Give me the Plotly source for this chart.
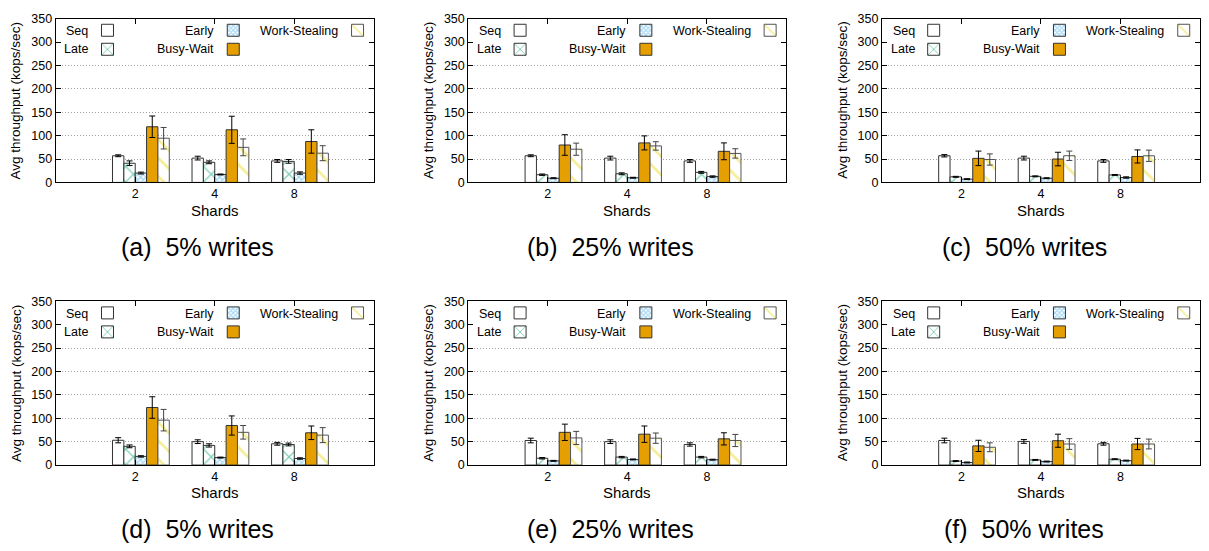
import plotly.graph_objects as go

# ---------------- data ----------------
shards = ["2", "4", "8"]
series = ["Seq", "Late", "Early", "Busy-Wait", "Work-Stealing"]
panels = ["(a)", "(b)", "(c)", "(d)", "(e)", "(f)"]
captions = ["5% writes", "25% writes", "50% writes", "5% writes", "25% writes", "50% writes"]

# each list holds one [2, 4, 8] triple per panel (a..f)
seq_vals = [[57, 52, 46], [57, 52, 46], [57, 52, 46], [53, 50, 45.5], [52.5, 50, 44], [52.5, 50.5, 45.5]]
seq_errs = [[2, 4, 3], [2, 4, 3], [2.5, 4, 3], [5.5, 4, 3], [5, 4, 3.5], [5, 4, 3]]
late_vals = [[41, 43, 45], [16.5, 18.5, 21.5], [12, 13, 16], [40, 42, 44], [14.5, 17, 17], [8.5, 11, 12.5]]
late_errs = [[5, 3, 4], [1.5, 2, 2], [1, 1, 1], [3, 3.5, 3], [1.5, 1.5, 1.5], [1, 1, 1]]
early_vals = [[20, 17, 20], [9, 10, 12.5], [7, 9, 10.5], [18.5, 16, 14], [9, 12, 11.5], [5.5, 7.5, 9.5]]
early_errs = [[2, 1, 2.5], [1, 1, 1.5], [1, 1, 1.5], [1.5, 1, 1.5], [1, 1, 1], [1, 1, 1]]
busy_vals = [[119, 112.5, 87.5], [80, 84.5, 66.5], [51.5, 50, 55.5], [123, 84.5, 69], [70, 66, 56], [41, 52, 45]]
busy_errs = [[23, 29, 25], [22, 15, 18], [15.5, 14.5, 14], [23, 20.5, 14.5], [17.5, 17.5, 13], [12, 14, 12]]
ws_vals = [[94.5, 75, 62.5], [71, 78, 62], [49, 57, 57], [96, 70, 64], [58, 57.5, 52.5], [38, 45, 45]]
ws_errs = [[23, 18, 16], [13, 9, 10], [12, 10, 12], [23, 14.5, 16], [14, 11, 13], [9.5, 11.5, 10.5]]

y_ticks = [0, 50, 100, 150, 200, 250, 300, 350]
grid_vals = [50, 100, 150, 200, 250]

# ---------------- layout geometry (pixels) ----------------
W, H = 1209, 551
PW, PH = 320, 168
lefts = [56, 471, 887, 56, 471, 887]
tops = [12, 12, 12, 302, 302, 302]
FONT = "Liberation Sans, Arial, Helvetica, sans-serif"

vals = [seq_vals, late_vals, early_vals, busy_vals, ws_vals]
errs = [seq_errs, late_errs, early_errs, busy_errs, ws_errs]
outline = "#333333"
markers = [
    dict(color="white", line=dict(color=outline, width=1)),
    dict(color="white", line=dict(color=outline, width=1),
         pattern=dict(shape="x", fgcolor="#009E73", bgcolor="white", size=11, solidity=0.22)),
    dict(color="white", line=dict(color=outline, width=1),
         pattern=dict(shape="x", fgcolor="#56B4E9", bgcolor="white", size=4, solidity=0.6)),
    dict(color="#E69F00", line=dict(color=outline, width=1)),
    dict(color="white", line=dict(color="#555555", width=1),
         pattern=dict(shape="\\", fgcolor="#EADB2A", bgcolor="white", size=13, solidity=0.2)),
]
err_colors = ["#000", "#000", "#000", "#000", "#444"]
legend_col = [0, 0, 1, 1, 2]
legend_row = [0, 1, 0, 1, 0]
col_text_right = [35, 161, 286]
col_sym_center = [52, 178.5, 303.5]

fig = go.Figure()
annotations = []
layout = dict(width=W, height=H, margin=dict(l=0, r=0, t=0, b=0),
              paper_bgcolor="white", plot_bgcolor="white", barmode="overlay",
              font=dict(family=FONT, size=12, color="#000"))

nbar = len(series)
bw = 1.0 / (nbar + 2)

for p in range(6):
    k = p + 1
    xa = "x" if k == 1 else f"x{k}"
    ya = "y" if k == 1 else f"y{k}"
    L, T = lefts[p], tops[p]
    for j, s in enumerate(series):
        lg_idx = p * 3 + legend_col[j] + 1
        lg = "legend" if lg_idx == 1 else f"legend{lg_idx}"
        fig.add_trace(go.Bar(
            x=list(range(len(shards))), y=vals[j][p], name="",
            offset=-2 * bw + j * bw, width=bw,
            marker=markers[j],
            error_y=dict(type="data", array=errs[j][p], color=err_colors[j], thickness=1, width=3),
            xaxis=xa, yaxis=ya, legend=lg, showlegend=True,
            hovertemplate=s + ": %{y}<extra></extra>",
        ))
        # legend label text
        annotations.append(dict(
            text=s, xref="paper", yref="paper", showarrow=False,
            x=(L + col_text_right[legend_col[j]]) / W, xanchor="right",
            y=1 - (T + 13 + 18 * legend_row[j]) / H, yanchor="middle",
            font=dict(family=FONT, size=12.5, color="#000"),
        ))
    for c in range(3):
        lg_idx = p * 3 + c + 1
        lg = "legend" if lg_idx == 1 else f"legend{lg_idx}"
        layout[lg] = dict(
            x=(L + col_sym_center[c] - 20) / W, xanchor="left",
            y=1 - (T - 3) / H, yanchor="top",
            bgcolor="rgba(0,0,0,0)", borderwidth=0, tracegroupgap=0,
            font=dict(family=FONT, size=11),
        )
    xdom = [L / W, (L + PW) / W]
    ydom = [1 - (T + PH) / H, 1 - T / H]
    axname = "xaxis" if k == 1 else f"xaxis{k}"
    ayname = "yaxis" if k == 1 else f"yaxis{k}"
    layout[axname] = dict(
        domain=xdom, anchor=ya, range=[-1, 3],
        tickmode="array", tickvals=list(range(len(shards))), ticktext=shards,
        ticks="inside", ticklen=5, tickcolor="#000", showline=True, linecolor="#000",
        linewidth=1, mirror="ticks", showgrid=False, zeroline=False,
        tickfont=dict(family=FONT, size=12.5, color="#000"), fixedrange=True,
    )
    layout[ayname] = dict(
        domain=ydom, anchor=xa, range=[0, 350],
        tickmode="array", tickvals=y_ticks,
        ticks="inside", ticklen=5, tickcolor="#000", showline=True, linecolor="#000",
        linewidth=1, mirror="ticks", showgrid=False, zeroline=False,
        tickfont=dict(family=FONT, size=12.5, color="#000"), fixedrange=True,
        minor=dict(tickmode="array", tickvals=grid_vals, showgrid=True,
                   gridcolor="#a0a0a0", griddash="1px,2px", gridwidth=1, ticks=""),
    )
    # y title
    annotations.append(dict(
        text="Avg throughput (kops/sec)", xref="paper", yref="paper", showarrow=False,
        x=(L - 40) / W, y=1 - (T + PH / 2) / H, textangle=-90,
        xanchor="center", yanchor="middle", font=dict(family=FONT, size=13.5, color="#000"),
    ))
    # x title
    annotations.append(dict(
        text="Shards", xref="paper", yref="paper", showarrow=False,
        x=(L + PW / 2) / W, y=1 - (T + 196.5) / H, xanchor="center", yanchor="middle",
        font=dict(family=FONT, size=15, color="#000"),
    ))
    # caption
    annotations.append(dict(
        text=panels[p] + "\u00a0\u00a0" + captions[p], xref="paper", yref="paper", showarrow=False,
        x=(L + PW / 2 - 17) / W, y=1 - (T + 234) / H, xanchor="center", yanchor="middle",
        font=dict(family=FONT, size=25, color="#000"),
    ))

layout["annotations"] = annotations
fig.update_layout(**layout)
fig.write_html("out.html")
